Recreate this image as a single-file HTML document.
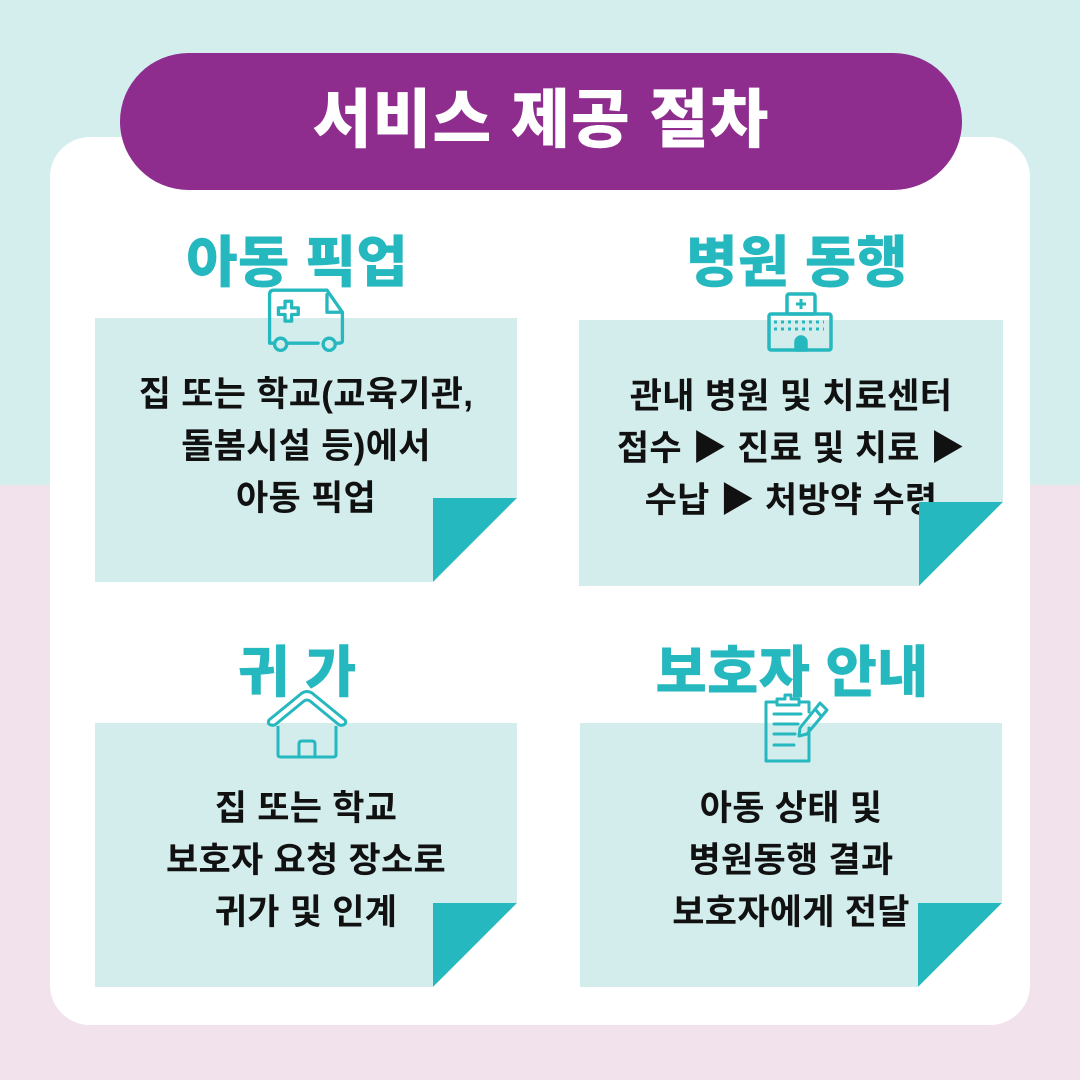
<!DOCTYPE html>
<html><head><meta charset="utf-8"><style>
body{margin:0;width:1080px;height:1080px;position:relative;overflow:hidden;background:linear-gradient(#d4eeee 0,#d4eeee 485px,#f1e2ec 485px);font-family:"Liberation Sans","Noto Sans CJK KR",sans-serif}
.card{position:absolute;left:50px;top:137px;width:980px;height:888px;background:#fff;border-radius:40px}
.pill{position:absolute;left:120px;top:53px;width:842px;height:137px;background:#8e2d8e;border-radius:69px;color:#fff;font-size:64px;font-weight:900;text-align:center;line-height:134px;letter-spacing:1px}
.h{position:absolute;color:#26b8bf;font-size:56px;font-weight:900;text-align:center;width:500px;line-height:60px}
.p{position:absolute;background:#d3eded;width:422px;height:264px}
.p .t{position:absolute;left:-20px;right:-20px;text-align:center;font-size:35px;font-weight:700;line-height:52px;color:#111;letter-spacing:0.3px}
.p svg.c{position:absolute;right:0;bottom:0}
svg.i{position:absolute}
</style></head><body>
<div class="card"></div>
<div class="pill">서비스 제공 절차</div>
<div class="h" style="left:47px;top:233px">아동 픽업</div>
<div class="h" style="left:547px;top:233px">병원 동행</div>
<div class="h" style="left:47px;top:643px">귀 가</div>
<div class="h" style="left:542px;top:643px">보호자 안내</div>

<div class="p" style="left:95px;top:318px"><div class="t" style="top:51px">집 또는 학교(교육기관,<br>돌봄시설 등)에서<br>아동 픽업</div>
<svg class="c" width="84" height="84"><polygon points="0,0 84,0 0,84" fill="#26b8bf"/><polygon points="84,0 84,84 0,84" fill="#fff"/></svg></div>
<div class="p" style="left:579px;top:320px;width:424px;height:266px"><div class="t" style="top:51px">관내 병원 및 치료센터<br>접수 ▶ 진료 및 치료 ▶<br>수납 ▶ 처방약 수령</div>
<svg class="c" width="84" height="84"><polygon points="0,0 84,0 0,84" fill="#26b8bf"/><polygon points="84,0 84,84 0,84" fill="#fff"/></svg></div>
<div class="p" style="left:95px;top:723px"><div class="t" style="top:60px">집 또는 학교<br>보호자 요청 장소로<br>귀가 및 인계</div>
<svg class="c" width="84" height="84"><polygon points="0,0 84,0 0,84" fill="#26b8bf"/><polygon points="84,0 84,84 0,84" fill="#fff"/></svg></div>
<div class="p" style="left:580px;top:723px"><div class="t" style="top:60px">아동 상태 및<br>병원동행 결과<br>보호자에게 전달</div>
<svg class="c" width="84" height="84"><polygon points="0,0 84,0 0,84" fill="#26b8bf"/><polygon points="84,0 84,84 0,84" fill="#fff"/></svg></div>

<svg class="i" style="left:262px;top:288px" width="88" height="64" viewBox="0 0 74 58" fill="none" stroke="#26b8bf" stroke-width="3" stroke-linejoin="round" stroke-linecap="round">
<path d="M8,50 H4 V6 Q4,2 8,2 H56 L70,22 V48 Q70,50 66,50 H64 M20,50 H48 M34,50 H40"/>
<path d="M56,6 V22 H70"/>
<circle cx="14" cy="51" r="5.5"/><circle cx="58" cy="51" r="5.5"/>
<path d="M18,12 h6 v6 h6 v6 h-6 v6 h-6 v-6 h-6 v-6 h6z"/></svg>
<svg class="i" style="left:766px;top:292px" width="70" height="64" fill="none" stroke="#26b8bf" stroke-width="3.5" stroke-linejoin="round">
<rect x="21" y="2" width="28" height="20" rx="2"/><rect x="3" y="22" width="62" height="36" rx="2"/>
<path d="M35,7 v10 M30,12 h10" stroke-width="3"/>
<path d="M8,30 h50 M8,37 h50" stroke-dasharray="3 4" stroke-width="3"/>
<path d="M30,58 V50 a5,5 0 0 1 10,0 V58z" fill="#26b8bf"/></svg>
<svg class="i" style="left:266px;top:690px" width="82" height="70" viewBox="0 0 82 70" fill="none" stroke="#26b8bf" stroke-width="3" stroke-linejoin="round">
<path d="M3,30 L36,3 Q41,0 46,3 L79,30 Q81,34 77,35 Q74,36 72,34 L44,11 Q41,9 38,11 L10,34 Q8,36 5,35 Q1,34 3,30z"/>
<path d="M12,36 V65 Q12,67 15,67 H67 Q70,67 70,65 V36"/>
<path d="M33,67 V54 Q33,51 36,51 H46 Q49,51 49,54 V67"/></svg>
<svg class="i" style="left:760px;top:690px" width="72" height="74" viewBox="0 0 66 74" fill="none" stroke="#26b8bf" stroke-width="3" stroke-linejoin="round" stroke-linecap="round">
<path d="M46,38 V71 H3 V12 H14 M36,12 H46 V22"/>
<path d="M14,9 h8 v-4 h6 v4 h8 v6 h-22z"/>
<path d="M11,24 H38 M11,34 H35 M11,44 H32 M11,55 H31"/>
<path d="M57,13 L64,20 L44,44 L36,46 L37,38z M52,19 L58,26"/></svg>
</body></html>
